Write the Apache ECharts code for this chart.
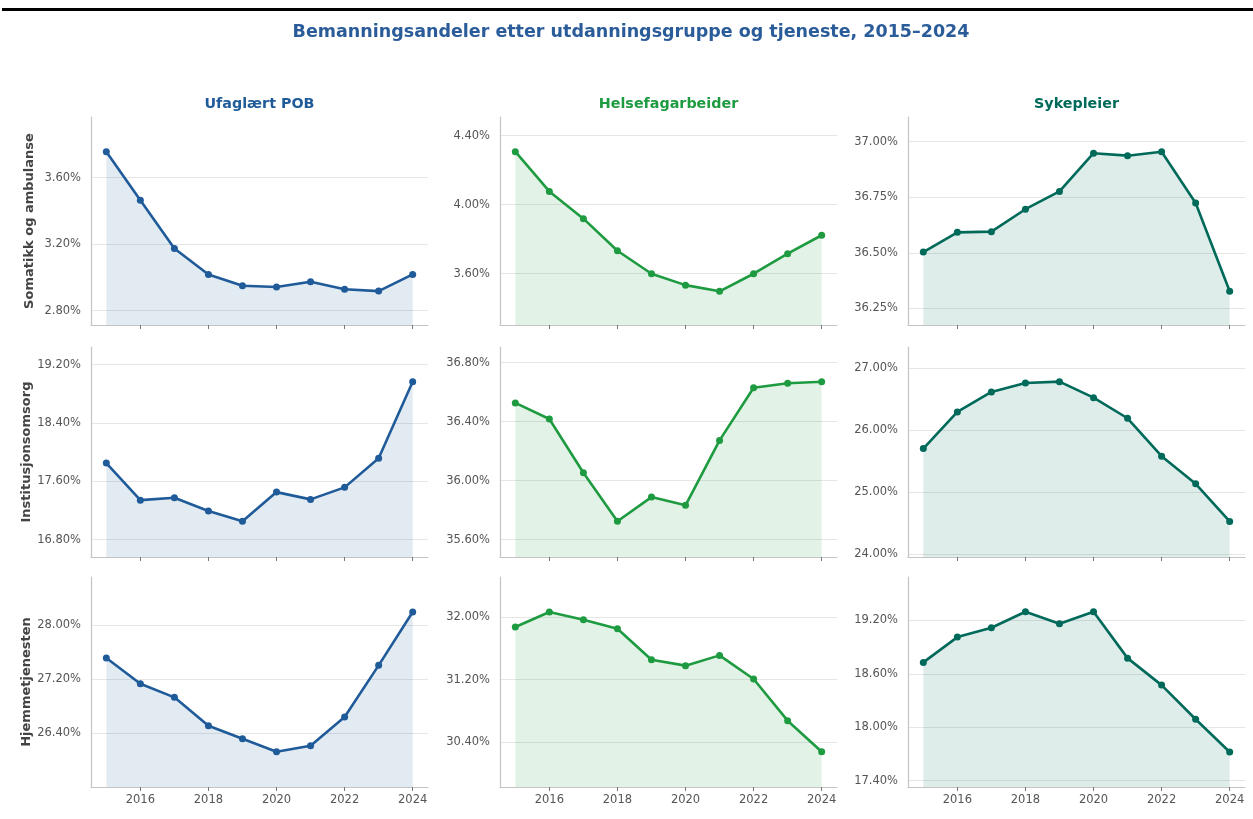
<!DOCTYPE html>
<html>
<head>
<meta charset="utf-8">
<script src="https://cdn.jsdelivr.net/npm/echarts@6/dist/echarts.min.js"></script>
<style>
  html, body { margin: 0; padding: 0; background: #fff; }
  #chart { width: 1253px; height: 819px; }
</style>
</head>
<body>
<div id="chart"></div>
<script>
// years on the x axis
const years = [2015, 2016, 2017, 2018, 2019, 2020, 2021, 2022, 2023, 2024]
const yearTicks = [2016, 2018, 2020, 2022, 2024]

const groups = ['Ufaglært POB', 'Helsefagarbeider', 'Sykepleier']
const services = ['Somatikk og ambulanse', 'Institusjonsomsorg', 'Hjemmetjenesten']

// shares in percent, one array per panel (service x group)
const somUfaglaert = [3.756, 3.464, 3.174, 3.018, 2.950, 2.943, 2.974, 2.929, 2.918, 3.018]
const somHelsefag = [4.307, 4.077, 3.919, 3.733, 3.600, 3.534, 3.498, 3.600, 3.716, 3.823]
const somSykepleier = [36.503, 36.592, 36.595, 36.696, 36.776, 36.948, 36.937, 36.955, 36.724, 36.327]

const instUfaglaert = [17.851, 17.343, 17.375, 17.193, 17.052, 17.453, 17.353, 17.518, 17.916, 18.967]
const instHelsefag = [36.527, 36.418, 36.054, 35.725, 35.889, 35.833, 36.273, 36.630, 36.660, 36.671]
const instSykepleier = [25.703, 26.295, 26.618, 26.763, 26.784, 26.526, 26.193, 25.581, 25.134, 24.527]

const hjemUfaglaert = [27.516, 27.135, 26.933, 26.513, 26.320, 26.127, 26.216, 26.641, 27.407, 28.197]
const hjemHelsefag = [31.872, 32.064, 31.966, 31.851, 31.455, 31.379, 31.510, 31.208, 30.676, 30.280]
const hjemSykepleier = [18.728, 19.012, 19.117, 19.297, 19.162, 19.297, 18.776, 18.473, 18.090, 17.722]

// y tick labels per panel
const somUfaglaertTicks = [2.8, 3.2, 3.6]
const somHelsefagTicks = [3.6, 4.0, 4.4]
const somSykepleierTicks = [36.25, 36.5, 36.75, 37.0]
const instUfaglaertTicks = [16.8, 17.6, 18.4, 19.2]
const instHelsefagTicks = [35.6, 36.0, 36.4, 36.8]
const instSykepleierTicks = [24, 25, 26, 27]
const hjemUfaglaertTicks = [26.4, 27.2, 28.0]
const hjemHelsefagTicks = [30.4, 31.2, 32.0]
const hjemSykepleierTicks = [17.4, 18.0, 18.6, 19.2]

// visible y range per panel [min, max]
const somUfaglaertRange = [2.714, 3.965]
const somHelsefagRange = [3.303, 4.508]
const somSykepleierRange = [36.175, 37.111]
const instUfaglaertRange = [16.563, 19.443]
const instHelsefagRange = [35.483, 36.906]
const instSykepleierRange = [23.952, 27.344]
const hjemUfaglaertRange = [25.605, 28.716]
const hjemHelsefagRange = [29.829, 32.511]
const hjemSykepleierRange = [17.329, 19.687]

const panels = [
  [somUfaglaert, somUfaglaertTicks, somUfaglaertRange],
  [somHelsefag, somHelsefagTicks, somHelsefagRange],
  [somSykepleier, somSykepleierTicks, somSykepleierRange],
  [instUfaglaert, instUfaglaertTicks, instUfaglaertRange],
  [instHelsefag, instHelsefagTicks, instHelsefagRange],
  [instSykepleier, instSykepleierTicks, instSykepleierRange],
  [hjemUfaglaert, hjemUfaglaertTicks, hjemUfaglaertRange],
  [hjemHelsefag, hjemHelsefagTicks, hjemHelsefagRange],
  [hjemSykepleier, hjemSykepleierTicks, hjemSykepleierRange],
]

const colors = ['#1f5a99', '#1e9b40', '#006a5a']
const font = 'DejaVu Sans'
const colLeft = [91, 500, 908]
const colWidth = 337
const rowTop = [117, 347, 577]
const rowHeight = [208, 210, 210]

const grid = []
const xAxis = []
const yAxis = []
const series = []

panels.forEach(([values, ticks, range], i) => {
  const row = Math.floor(i / 3)
  const col = i % 3
  grid.push({ left: colLeft[col], top: rowTop[row], width: colWidth, height: rowHeight[row] })
  xAxis.push({
    type: 'value',
    gridIndex: i,
    min: 2014.55,
    max: 2024.45,
    axisLine: { lineStyle: { color: '#c4c4c4', width: 1.2 } },
    axisTick: { show: true, length: 4, customValues: yearTicks, lineStyle: { color: '#777' } },
    axisLabel: {
      show: row === 2,
      customValues: yearTicks,
      color: '#555',
      fontFamily: font,
      fontSize: 11.5,
      margin: 7,
      formatter: (v) => String(Math.round(v)),
    },
    splitLine: { show: false },
  })
  yAxis.push({
    type: 'value',
    gridIndex: i,
    min: range[0],
    max: range[1],
    name: col === 0 ? services[row] : '',
    nameLocation: 'middle',
    nameGap: 55,
    nameTextStyle: { fontFamily: font, fontSize: 13, fontWeight: 'bold', color: '#444' },
    axisLine: { show: true, lineStyle: { color: '#c4c4c4', width: 1.2 } },
    axisTick: { show: false, customValues: ticks },
    axisLabel: {
      customValues: ticks,
      color: '#555',
      fontFamily: font,
      fontSize: 11.5,
      margin: 10,
      formatter: (v) => Number(v).toFixed(2) + '%',
    },
    splitLine: { show: true, lineStyle: { color: '#e6e6e6', width: 1 } },
  })
  series.push({
    type: 'line',
    xAxisIndex: i,
    yAxisIndex: i,
    data: years.map((y, k) => [y, values[k]]),
    symbol: 'circle',
    symbolSize: 7,
    showSymbol: true,
    lineStyle: { width: 2.6, color: colors[col] },
    itemStyle: { color: colors[col] },
    areaStyle: { origin: 'start', color: colors[col], opacity: 0.13 },
    silent: true,
  })
})

const titles = [
  {
    text: 'Bemanningsandeler etter utdanningsgruppe og tjeneste, 2015–2024',
    left: 631,
    top: 23,
    padding: 0,
    textAlign: 'center',
    textStyle: { fontFamily: font, fontSize: 17.5, fontWeight: 'bold', color: '#2b5c9a' },
  },
].concat(groups.map((g, c) => ({
  text: g,
  left: colLeft[c] + colWidth / 2,
  top: 97,
  padding: 0,
  textAlign: 'center',
  textStyle: { fontFamily: font, fontSize: 14.3, fontWeight: 'bold', color: colors[c] },
})))

const chart = echarts.init(document.getElementById('chart'))
chart.setOption({
  animation: false,
  backgroundColor: '#fff',
  title: titles,
  graphic: [
    {
      type: 'line',
      shape: { x1: 2, y1: 9.5, x2: 1253, y2: 9.5 },
      style: { stroke: '#000', lineWidth: 3 },
    },
  ],
  grid,
  xAxis,
  yAxis,
  series,
})
</script>
</body>
</html>
